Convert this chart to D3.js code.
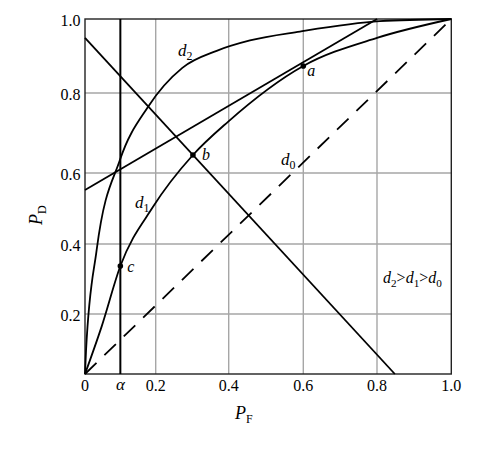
<!DOCTYPE html>
<html>
<head>
<meta charset="utf-8">
<script src="https://d3js.org/d3.v7.min.js"></script>
<style>
    body { margin: 0; background: #fff; }
    svg, svg text { font-family: "Liberation Serif", "Times New Roman", serif; }
</style>
</head>
<body>
<svg id="chart"></svg>
<script>

// Data
var tickValues = [0, 0.2, 0.4, 0.6, 0.8, 1.0];
var xTickLabels = ["0", "0.2", "0.4", "0.6", "0.8", "1.0"];
var yTickLabels = ["", "0.2", "0.4", "0.6", "0.8", "1.0"];
var gridValues = [0.2, 0.4, 0.6, 0.8];
var alpha = 0.1;

// ROC curves: [PF, PD]
var d2Curve = [[0, 0], [0.003, 0.08], [0.033, 0.383], [0.099, 0.633], [0.178, 0.765],
    [0.273, 0.868], [0.367, 0.914], [0.457, 0.942], [0.591, 0.966], [0.808, 0.994], [1, 1]];
var d1Curve = [[0, 0], [0.047, 0.158], [0.1, 0.337], [0.192, 0.504], [0.302, 0.645],
    [0.398, 0.728], [0.6, 0.873], [0.8, 0.949], [1, 1]];
var d0Line = [[0, 0], [1, 1]];

// straight lines
var tangentLine = [[0, 0.552], [0.8, 1.0]];
var fallingLine = [[0, 0.949], [0.848, 0]];

// marked points
var points = [
    {name: "a", pf: 0.6, pd: 0.873},
    {name: "b", pf: 0.302, pd: 0.645},
    {name: "c", pf: 0.1, pd: 0.337}
];

var width = 488;
var height = 451;

var svg = d3.select("#chart")
    .attr("width", width)
    .attr("height", height)
    .attr("font-family", "Liberation Serif, Times New Roman, serif");

// The original figure's grid is not quite evenly spaced, so use piecewise scales.
var x = d3.scaleLinear().domain(tickValues).range([85, 155.7, 228.7, 303.3, 377, 451.3]);
var y = d3.scaleLinear().domain(tickValues).range([374, 314, 244, 173, 93, 19]);

var line = d3.line()
    .x(function (d) { return x(d[0]); })
    .y(function (d) { return y(d[1]); });

var smooth = d3.line()
    .curve(d3.curveMonotoneX)
    .x(function (d) { return x(d[0]); })
    .y(function (d) { return y(d[1]); });

// Grid
svg.append("g").selectAll("line.vgrid").data(gridValues).enter().append("line")
    .attr("x1", function (d) { return x(d); }).attr("x2", function (d) { return x(d); })
    .attr("y1", y(0)).attr("y2", y(1))
    .style("stroke", "#a6a6a6").style("stroke-width", 1.4);
svg.append("g").selectAll("line.hgrid").data(gridValues).enter().append("line")
    .attr("y1", function (d) { return y(d); }).attr("y2", function (d) { return y(d); })
    .attr("x1", x(0)).attr("x2", x(1))
    .style("stroke", "#a6a6a6").style("stroke-width", 1.4);

// Frame
svg.append("rect")
    .attr("x", x(0)).attr("y", y(1))
    .attr("width", x(1) - x(0)).attr("height", y(0) - y(1))
    .style("fill", "none").style("stroke", "#222").style("stroke-width", 1.4);

// alpha line
svg.append("line")
    .attr("x1", x(alpha)).attr("x2", x(alpha))
    .attr("y1", y(0)).attr("y2", y(1))
    .style("stroke", "#000").style("stroke-width", 2);

// Curves and lines
svg.append("path").attr("d", line(d0Line))
    .style("fill", "none").style("stroke", "#000").style("stroke-width", 1.8)
    .style("stroke-dasharray", "16,11");
[tangentLine, fallingLine].forEach(function (l) {
    svg.append("path").attr("d", line(l))
        .style("fill", "none").style("stroke", "#000").style("stroke-width", 1.8);
});
[d2Curve, d1Curve].forEach(function (c) {
    svg.append("path").attr("d", smooth(c))
        .style("fill", "none").style("stroke", "#000").style("stroke-width", 1.8);
});

// Points
svg.append("g").selectAll("circle").data(points).enter().append("circle")
    .attr("cx", function (d) { return x(d.pf); })
    .attr("cy", function (d) { return y(d.pd); })
    .attr("r", 2.8)
    .style("fill", "#000");

var pointOffsets = {a: [4, 10], b: [9, 5], c: [7, 6]};
svg.append("g").selectAll("text").data(points).enter().append("text")
    .attr("x", function (d) { return x(d.pf) + pointOffsets[d.name][0]; })
    .attr("y", function (d) { return y(d.pd) + pointOffsets[d.name][1]; })
    .style("font-style", "italic").style("font-size", "16px")
    .text(function (d) { return d.name; });

// Curve labels (d with subscript)
function subLabel(px, py, parts, size) {
    var t = svg.append("text").attr("x", px).attr("y", py).style("font-size", size + "px");
    parts.forEach(function (p) {
        t.append("tspan").style("font-style", "italic").text(p[0]);
        t.append("tspan").attr("dy", 4).style("font-size", (size * 0.7) + "px").text(p[1]);
        t.append("tspan").attr("dy", -4).text(p[2] || "");
    });
    return t;
}
subLabel(178, 56, [["d", "2"]], 17);
subLabel(135, 208, [["d", "1"]], 17);
subLabel(281, 165, [["d", "0"]], 17);
subLabel(383, 283, [["d", "2", ">"], ["d", "1", ">"], ["d", "0"]], 16);

// Tick labels
svg.append("g").selectAll("text").data(tickValues).enter().append("text")
    .attr("x", function (d) { return x(d); })
    .attr("y", 391)
    .attr("text-anchor", "middle")
    .style("font-size", "16px")
    .text(function (d, i) { return xTickLabels[i]; });
svg.append("text")
    .attr("x", x(alpha)).attr("y", 390)
    .attr("text-anchor", "middle")
    .style("font-size", "17px").style("font-style", "italic")
    .text("α");
svg.append("g").selectAll("text").data(tickValues).enter().append("text")
    .attr("x", 80.5)
    .attr("y", function (d) { return y(d) + 7; })
    .attr("text-anchor", "end")
    .style("font-size", "16px")
    .text(function (d, i) { return yTickLabels[i]; });

// Axis titles
var xt = svg.append("text").attr("x", 235).attr("y", 419).style("font-size", "18px");
xt.append("tspan").style("font-style", "italic").text("P");
xt.append("tspan").attr("dy", 4).style("font-size", "12px").text("F");

var yt = svg.append("text")
    .attr("transform", "translate(42,225)rotate(-90)")
    .style("font-size", "18px");
yt.append("tspan").style("font-style", "italic").text("P");
yt.append("tspan").attr("dy", 4).style("font-size", "12px").text("D");

</script>
</body>
</html>
